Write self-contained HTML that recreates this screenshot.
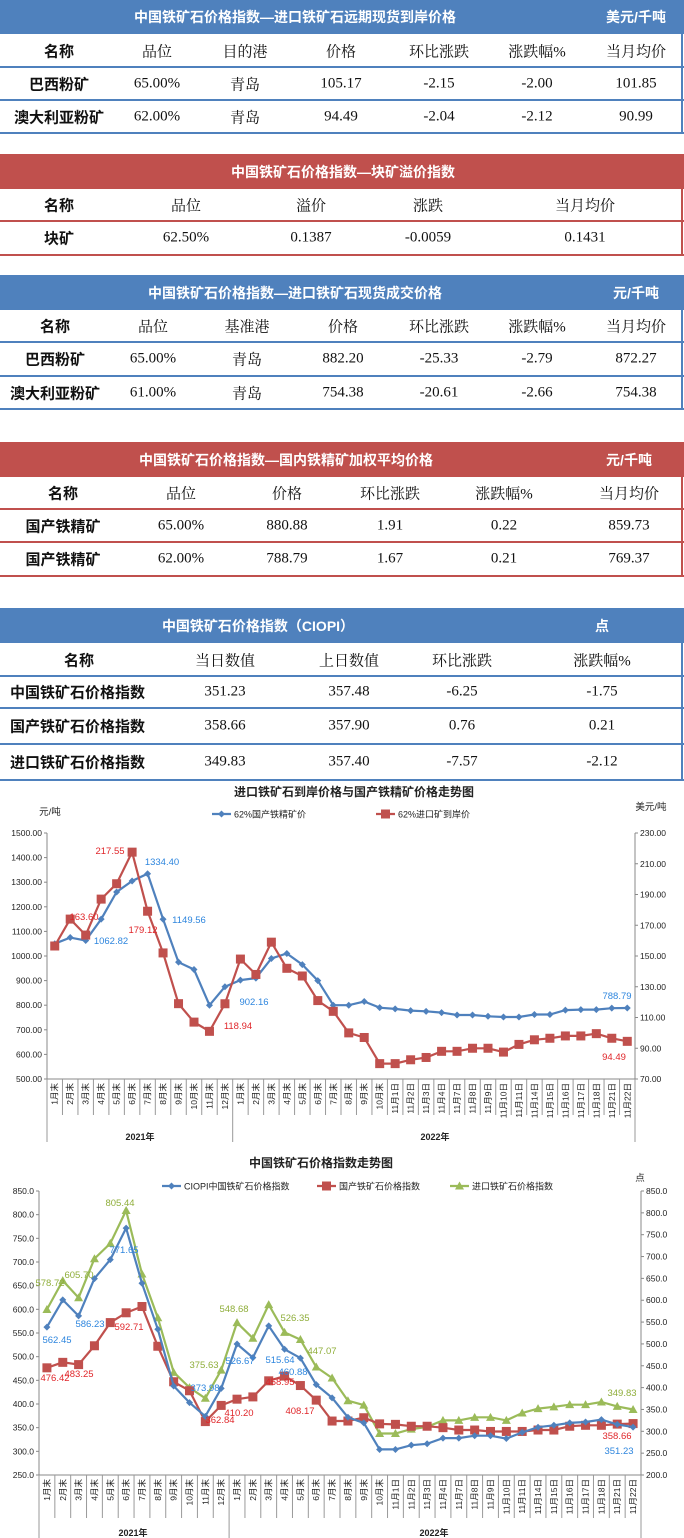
<!DOCTYPE html>
<html><head><meta charset="utf-8">
<style>
*{margin:0;padding:0;box-sizing:border-box}
body{width:684px;height:1538px;background:#fff;position:relative;overflow:hidden;font-family:"Liberation Serif","Noto Serif CJK SC",serif}
.hd{position:absolute;left:0;width:684px;color:#fff;font-family:"Liberation Sans","Noto Sans CJK SC",sans-serif;font-weight:bold;font-size:14px}
.hd span{position:absolute;top:50%;transform:translate(-50%,-50%);white-space:nowrap}
.c{position:absolute;transform:translate(-50%,-50%);white-space:nowrap;font-size:15px;color:#111}
.n{font-family:"Liberation Sans","Noto Sans CJK SC",sans-serif;font-weight:bold;font-size:15px}
.ln{position:absolute;left:0;width:684px;height:2px}
.rb{position:absolute;left:681px;width:2px}
</style></head><body>
<div id="tables"></div>
<svg id="ch" width="684" height="758" style="position:absolute;left:0;top:780px" font-family="Liberation Sans, Noto Sans CJK SC, sans-serif"></svg>
<script>
var B='#4f81bd',R='#c0504d';
var T=document.getElementById('tables'),h='';
function table(top,hh,col,title,tx,unit,ux,rows,lines,cols,bottom,nameLeft){
 h+='<div class="hd" style="top:'+top+'px;height:'+hh+'px;background:'+col+'"><span style="left:'+tx+'px">'+title+'</span>'+(unit?'<span style="left:'+ux+'px">'+unit+'</span>':'')+'</div>';
 var ys=[top+hh].concat(lines);
 for(var i=0;i<lines.length;i++){h+='<div class="ln" style="top:'+(lines[i]-1)+'px;background:'+col+'"></div>';}
 h+='<div class="rb" style="top:'+top+'px;height:'+(bottom-top)+'px;background:'+col+'"></div>';
 for(var r=0;r<rows.length;r++){var cy=(ys[r]+ys[r+1])/2;
  for(var c=0;c<rows[r].length;c++){var bold=c==0;
   var x=cols[c];var st='top:'+cy+'px;left:'+x+'px;';
   if(c==0&&nameLeft&&r>0)st='top:'+cy+'px;left:10px;transform:translate(0,-50%);';
   h+='<div class="c'+(bold?' n':'')+'" style="'+st+'">'+rows[r][c]+'</div>';}}
}
table(0,34,B,'中国铁矿石价格指数—进口铁矿石远期现货到岸价格',295,'美元/千吨',636,
 [['名称','品位','目的港','价格','环比涨跌','涨跌幅%','当月均价'],['巴西粉矿','65.00%','青岛','105.17','-2.15','-2.00','101.85'],['澳大利亚粉矿','62.00%','青岛','94.49','-2.04','-2.12','90.99']],
 [67,100,133],[59,157,245,341,439,537,636],133);
table(154,35,R,'中国铁矿石价格指数—块矿溢价指数',343,'',0,
 [['名称','品位','溢价','涨跌','当月均价'],['块矿','62.50%','0.1387','-0.0059','0.1431']],
 [221,255],[59,186,311,428,585],255);
table(275,35,B,'中国铁矿石价格指数—进口铁矿石现货成交价格',295,'元/千吨',636,
 [['名称','品位','基准港','价格','环比涨跌','涨跌幅%','当月均价'],['巴西粉矿','65.00%','青岛','882.20','-25.33','-2.79','872.27'],['澳大利亚粉矿','61.00%','青岛','754.38','-20.61','-2.66','754.38']],
 [342,376,409],[55,153,247,343,439,537,636],409);
table(442,35,R,'中国铁矿石价格指数—国内铁精矿加权平均价格',286,'元/千吨',629,
 [['名称','品位','价格','环比涨跌','涨跌幅%','当月均价'],['国产铁精矿','65.00%','880.88','1.91','0.22','859.73'],['国产铁精矿','62.00%','788.79','1.67','0.21','769.37']],
 [509,542,576],[63,181,287,390,504,629],576);
table(608,35,B,'中国铁矿石价格指数（CIOPI）',258,'点',602,
 [['名称','当日数值','上日数值','环比涨跌','涨跌幅%'],['中国铁矿石价格指数','351.23','357.48','-6.25','-1.75'],['国产铁矿石价格指数','358.66','357.90','0.76','0.21'],['进口铁矿石价格指数','349.83','357.40','-7.57','-2.12']],
 [676,708,744,780],[79,225,349,462,602],780,true);
T.innerHTML=h;

var cats=[];for(var i=1;i<=12;i++)cats.push(i+'月末');for(i=1;i<=10;i++)cats.push(i+'月末');
[1,2,3,4,7,8,9,10,11,14,15,16,17,18,21,22].forEach(function(d){cats.push('11月'+d+'日')});
var s='';
function chart(o){
 var x0=o.x0,x1=o.x1,yT=o.yT,yB=o.yB,n=38,w=(x1-x0)/n;
 s+='<text x="'+o.tx+'" y="'+o.ty+'" font-size="12" font-weight="bold" text-anchor="middle" fill="#222">'+o.title+'</text>';
 s+='<line x1="'+x0+'" y1="'+yT+'" x2="'+x0+'" y2="'+yB+'" stroke="#888"/>';
 s+='<line x1="'+x1+'" y1="'+yT+'" x2="'+x1+'" y2="'+yB+'" stroke="#888"/>';
 s+='<line x1="'+x0+'" y1="'+yB+'" x2="'+x1+'" y2="'+yB+'" stroke="#888"/>';
 var L=o.left,Rr=o.right;
 for(var v=L[0];v<=L[1]+1e-6;v+=L[2]){var y=yB-(v-L[0])/(L[1]-L[0])*(yB-yT);
  s+='<line x1="'+(x0-3)+'" y1="'+y+'" x2="'+x0+'" y2="'+y+'" stroke="#888"/><text x="'+(x0-5)+'" y="'+(y+3)+'" font-size="8.5" text-anchor="end" fill="#222">'+v.toFixed(L[3])+'</text>';}
 for(v=Rr[0];v<=Rr[1]+1e-6;v+=Rr[2]){y=yB-(v-Rr[0])/(Rr[1]-Rr[0])*(yB-yT);
  s+='<line x1="'+x1+'" y1="'+y+'" x2="'+(x1+3)+'" y2="'+y+'" stroke="#888"/><text x="'+(x1+5)+'" y="'+(y+3)+'" font-size="8.5" fill="#222">'+v.toFixed(Rr[3])+'</text>';}
 for(i=0;i<=n;i++){var xx=x0+i*w;var tall=(i==0||i==12||i==n);
  s+='<line x1="'+xx+'" y1="'+yB+'" x2="'+xx+'" y2="'+(tall?o.yEnd:o.yDiv)+'" stroke="#999"/>';}
 for(i=0;i<n;i++){var cx=x0+(i+0.5)*w;
  s+='<text transform="translate('+(cx+3)+','+(yB+4)+') rotate(-90)" font-size="8.5" text-anchor="end" fill="#222">'+cats[i]+'</text>';}
 s+='<text x="'+o.y1x+'" y="'+o.yry+'" font-size="9" text-anchor="middle" font-weight="bold" fill="#222">2021年</text>';
 s+='<text x="'+o.y2x+'" y="'+o.yry+'" font-size="9" text-anchor="middle" font-weight="bold" fill="#222">2022年</text>';
 o.series.forEach(function(se){var ax=se.axis=='r'?Rr:L;var pts=se.d.map(function(v,i){return [x0+(i+0.5)*w,yB-(v-ax[0])/(ax[1]-ax[0])*(yB-yT)]});
  s+='<polyline fill="none" stroke="'+se.c+'" stroke-width="2.2" points="'+pts.map(function(p){return p[0].toFixed(1)+','+p[1].toFixed(1)}).join(' ')+'"/>';
  pts.forEach(function(p){
   if(se.m=='d')s+='<path d="M'+p[0]+' '+(p[1]-3.5)+'l3.5 3.5l-3.5 3.5l-3.5-3.5z" fill="'+se.c+'"/>';
   else if(se.m=='s')s+='<rect x="'+(p[0]-4.5)+'" y="'+(p[1]-4.5)+'" width="9" height="9" fill="'+se.c+'"/>';
   else s+='<path d="M'+p[0]+' '+(p[1]-4.5)+'l4.5 8h-9z" fill="'+se.c+'"/>';});});
 o.legend.forEach(function(l){var y=l[3];
  s+='<line x1="'+l[0]+'" y1="'+y+'" x2="'+(l[0]+19)+'" y2="'+y+'" stroke="'+l[1]+'" stroke-width="2.2"/>';
  if(l[4]=='d')s+='<path d="M'+(l[0]+9.5)+' '+(y-3.5)+'l3.5 3.5l-3.5 3.5l-3.5-3.5z" fill="'+l[1]+'"/>';
  else if(l[4]=='s')s+='<rect x="'+(l[0]+5)+'" y="'+(y-4.5)+'" width="9" height="9" fill="'+l[1]+'"/>';
  else s+='<path d="M'+(l[0]+9.5)+' '+(y-4.5)+'l4.5 8h-9z" fill="'+l[1]+'"/>';
  s+='<text x="'+(l[0]+22)+'" y="'+(y+3.5)+'" font-size="9" fill="#222">'+l[2]+'</text>';});
 o.labels.forEach(function(l){s+='<text x="'+l[0]+'" y="'+l[1]+'" font-size="9.5" text-anchor="middle" fill="'+l[3]+'">'+l[2]+'</text>';});
 o.extra.forEach(function(l){s+='<text x="'+l[0]+'" y="'+l[1]+'" font-size="9.5" text-anchor="middle" fill="#222">'+l[2]+'</text>';});
}
var LB='#2e86de',LR='#e0262a',LG='#8fae3a';
chart({x0:47,x1:635,yT:53,yB:299,yDiv:335,yEnd:362,title:'进口铁矿石到岸价格与国产铁精矿价格走势图',tx:354,ty:16,
 left:[500,1500,100,2],right:[70,230,20,2],y1x:140,y2x:435,yry:360,
 series:[
 {c:B,m:'d',d:[1050,1075,1062.82,1150,1260,1305,1334.4,1149.56,975,945,800,875,902.16,910,990,1010,965,900,800,800,815,790,785,778,775,770,760,760,755,752,752,762,762,780,782,782,788,788.79]},
 {c:R,m:'s',axis:'r',d:[156.5,174,163.6,187,197,217.55,179.12,152,119,107,101,118.94,148,138,159,142,137,121,114,100,97,80,80,82.5,84,88,88,90,90,87.5,92.5,95.5,96.5,98,98,99.5,96.5,94.49]}],
 legend:[[212,B,'62%国产铁精矿价',34,'d'],[376,R,'62%进口矿到岸价',34,'s']],
 labels:[[111,164,'1062.82',LB],[162,85,'1334.40',LB],[189,143,'1149.56',LB],[254,225,'902.16',LB],[617,219,'788.79',LB],
  [84,140,'163.60',LR],[110,74,'217.55',LR],[143,153,'179.12',LR],[238,249,'118.94',LR],[614,280,'94.49',LR]],
 extra:[[50,35,'元/吨'],[651,30,'美元/吨']]});
s+='<g transform="translate(0,370)">';
chart({x0:39,x1:641,yT:41,yB:325,yDiv:368,yEnd:388,title:'中国铁矿石价格指数走势图',tx:321,ty:17,
 left:[250,850,50,1],right:[200,850,50,1],y1x:133,y2x:434,yry:386,
 series:[
 {c:'#9bbb59',m:'t',axis:'r',d:[578.72,645,605.7,695,730,805.44,660,560,435,400,375.63,440,548.68,513,590,526.35,510,447.07,422,370,360,295,295,305,310,325,325,332,332,325,342,352,356,361,361,367,357,349.83]},
 {c:R,m:'s',d:[476.42,488,483.25,523,572,592.71,606,522,447,428,362.84,397,410.2,415,449,458.95,439,408.17,364,364,371,358,357,353,353,350,345,345,342,342,342,345,345,353,355,355,357.5,358.66]},
 {c:B,m:'d',d:[562.45,620,586.23,665,705,771.65,655,558,438,403,373.98,433,526.67,498,565,515.64,497,441,413,372,360,304,304,313,316,328,328,333,333,327,340,351,355,360,362,367,357,351.23]}],
 legend:[[162,B,'CIOPI中国铁矿石价格指数',36,'d'],[317,R,'国产铁矿石价格指数',36,'s'],[450,'#9bbb59','进口铁矿石价格指数',36,'t']],
 labels:[[50,136,'578.72',LG],[79,128,'605.70',LG],[120,56,'805.44',LG],[204,218,'375.63',LG],[234,162,'548.68',LG],[295,171,'526.35',LG],[322,204,'447.07',LG],[622,246,'349.83',LG],
  [57,193,'562.45',LB],[90,177,'586.23',LB],[124,103,'771.65',LB],[205,241,'373.98',LB],[240,214,'526.67',LB],[280,213,'515.64',LB],[293,225,'460.88',LB],[619,304,'351.23',LB],
  [55,231,'476.42',LR],[79,227,'483.25',LR],[129,180,'592.71',LR],[220,273,'362.84',LR],[239,266,'410.20',LR],[280,235,'458.95',LR],[300,264,'408.17',LR],[617,289,'358.66',LR]],
 extra:[[640,31,'点']]});
s+='</g>';
document.getElementById('ch').innerHTML=s;
</script>
</body></html>
